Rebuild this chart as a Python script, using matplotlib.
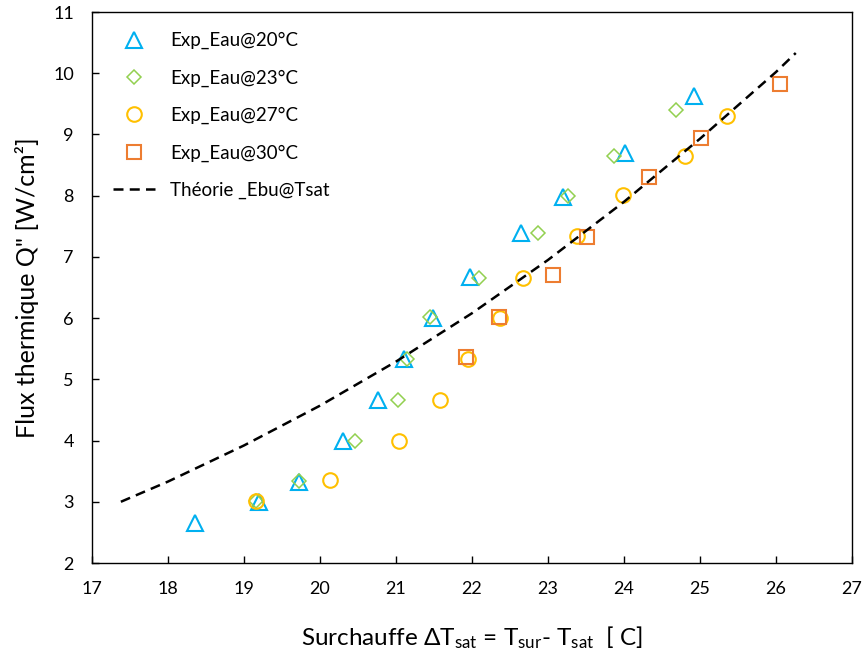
import matplotlib
matplotlib.use("Agg")
import matplotlib.pyplot as plt

plt.rcParams['font.family'] = ['Lato', 'DejaVu Sans']
plt.rcParams['mathtext.fontset'] = 'custom'
plt.rcParams['mathtext.rm'] = 'Lato'
plt.rcParams['mathtext.it'] = 'Lato:italic'

# Data
x20 = [18.36, 19.20, 19.72, 20.30, 20.76, 21.10, 21.49, 21.97, 22.64, 23.20, 24.01, 24.92]
y20 = [2.65, 3.00, 3.32, 4.00, 4.66, 5.33, 6.00, 6.67, 7.39, 7.98, 8.69, 9.62]

x23 = [19.16, 19.72, 20.46, 21.03, 21.14, 21.45, 22.09, 22.87, 23.26, 23.87, 24.68]
y23 = [3.01, 3.34, 4.00, 4.66, 5.33, 6.02, 6.65, 7.39, 8.00, 8.65, 9.40]

x27 = [19.16, 20.13, 21.04, 21.58, 21.95, 22.37, 22.67, 23.38, 23.99, 24.80, 25.36]
y27 = [3.01, 3.35, 4.00, 4.66, 5.33, 6.00, 6.66, 7.34, 8.01, 8.65, 9.30]

x30 = [21.92, 22.36, 23.07, 23.51, 24.33, 25.01, 26.05]
y30 = [5.37, 6.01, 6.71, 7.33, 8.31, 8.94, 9.82]

xth = [17.38, 18.0, 19.0, 20.0, 21.0, 22.0, 23.0, 24.0, 25.0, 26.0, 26.26]
yth = [3.00, 3.33, 3.92, 4.57, 5.29, 6.08, 6.95, 7.90, 8.93, 10.02, 10.33]

labels = ['Exp_Eau@20°C', 'Exp_Eau@23°C', 'Exp_Eau@27°C', 'Exp_Eau@30°C', 'Théorie _Ebu@Tsat']
xticks = list(range(17, 28))
yticks = list(range(2, 12))

fig = plt.figure(figsize=(8.63, 6.59), dpi=100)
ax = fig.add_axes([92/863, 1-563/659, (852-92)/863, (563-12)/659])

lw = 1.5
ax.plot(x20, y20, linestyle='none', marker='^', ms=11.5, mfc='none', mec='#00B0F0', mew=lw, label=labels[0], zorder=3)
ax.plot(x23, y23, linestyle='none', marker='D', ms=7.5, mfc='none', mec='#92D050', mew=1.1, label=labels[1], zorder=3)
ax.plot(x27, y27, linestyle='none', marker='o', ms=10.5, mfc='none', mec='#FFC000', mew=lw, label=labels[2], zorder=3)
ax.plot(x30, y30, linestyle='none', marker='s', ms=10, mfc='none', mec='#ED7D31', mew=lw, label=labels[3], zorder=3)
ax.plot(xth, yth, color='black', lw=1.8, linestyle=(0, (4, 2.5)), label=labels[4], zorder=4)

ax.set_xlim(17, 27)
ax.set_ylim(2, 11)
ax.set_xticks(xticks)
ax.set_yticks(yticks)
ax.tick_params(direction='in', length=5, width=1, labelsize=13, colors='black')
ax.tick_params(axis='x', pad=13)
ax.tick_params(axis='y', pad=13)
for s in ax.spines.values():
    s.set_linewidth(1)
    s.set_color('black')

ax.set_xlabel(r'Surchauffe ΔT$_{\mathrm{sat}}$ = T$_{\mathrm{sur}}$- T$_{\mathrm{sat}}$  [ C]', fontsize=17.5, labelpad=20)
ax.set_ylabel('Flux thermique Q" [W/cm²]', fontsize=18, labelpad=10)

fig.legend(loc='upper left', bbox_to_anchor=(113/863, 1-32/659), frameon=False, fontsize=13.5,
           borderpad=0, borderaxespad=0, handlelength=2.25, handletextpad=0.8, labelspacing=1.07)

fig.savefig('out.png', dpi=100)
